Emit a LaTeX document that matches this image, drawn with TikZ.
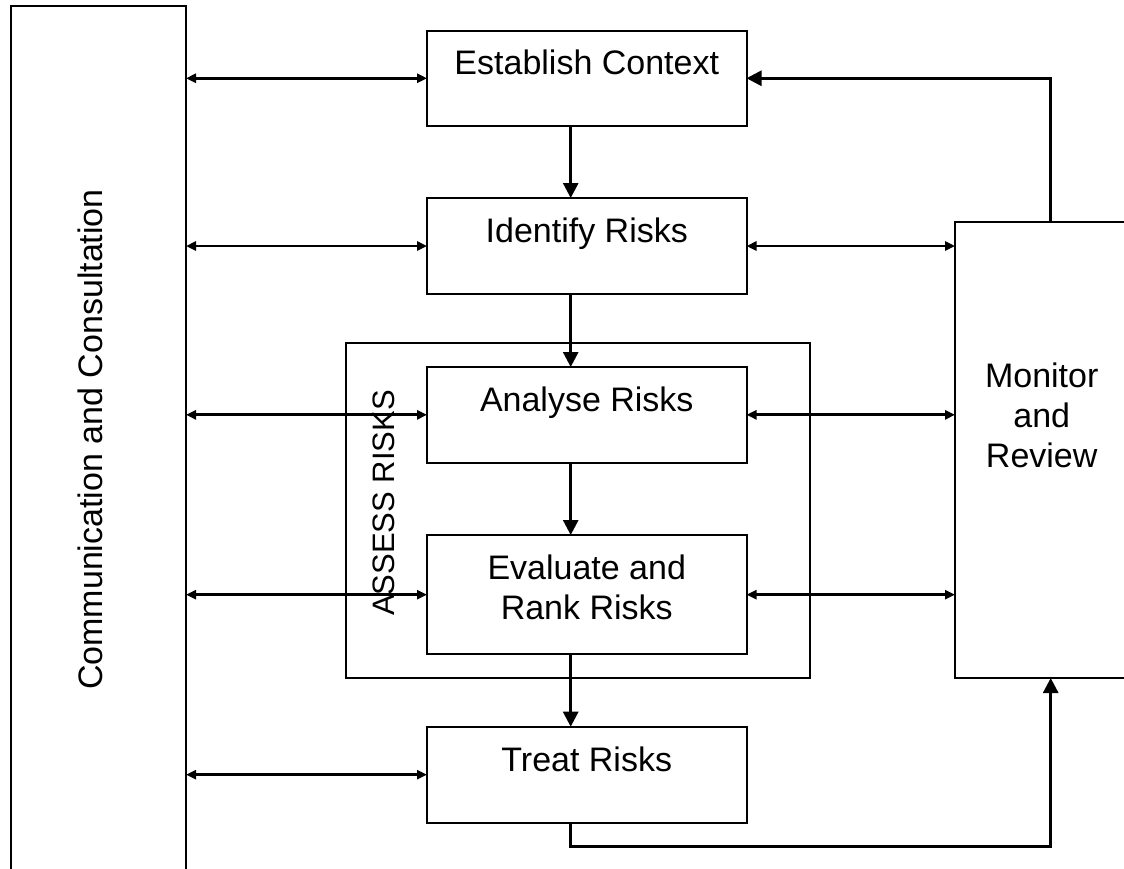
\documentclass[tikz,border=0pt]{standalone}
\usepackage{fontspec}
\setmainfont{Liberation Sans}
\usetikzlibrary{arrows.meta}
\tikzset{
  box/.style={draw, line width=2pt, inner sep=0pt, outer sep=0pt},
  txt/.style={inner sep=0pt, anchor=north, align=center, font=\fontsize{34}{40}\selectfont},
  flow/.style={line width=2.8pt, -{Triangle[length=15pt,width=15pt]}},
  both/.style={line width=2.8pt, {Triangle[length=10pt,width=9pt]}-{Triangle[length=10pt,width=9pt]}},
}
\begin{document}
\begin{tikzpicture}[x=1pt,y=-1pt]
\useasboundingbox (0,0) rectangle (1124,868);
\clip (0,0) rectangle (1124,868);
% boxes
\node[box, minimum width=175.5pt, minimum height=884pt] (comm) at (98.25,448) {};
\node[box, minimum width=464pt, minimum height=335.3pt] (assess) at (578,510.35) {};
\node[box, minimum width=319.5pt, minimum height=95.5pt] (ec) at (586.75,78.25) {};
\node[box, minimum width=319.5pt, minimum height=96pt] (ir) at (586.75,246) {};
\node[box, minimum width=319.5pt, minimum height=95.7pt] (ar) at (586.75,414.85) {};
\node[box, minimum width=319.5pt, minimum height=119.3pt] (er) at (586.75,594.65) {};
\node[box, minimum width=319.5pt, minimum height=96pt] (tr) at (586.75,774.7) {};
\node[box, minimum width=195pt, minimum height=456pt] (mr) at (1052.5,450) {};
% texts
\node[txt] (ect) at ([yshift=-19.5pt]ec.north) {Establish Context};
\node[txt] (irt) at ([yshift=-19.5pt]ir.north) {Identify Risks};
\node[txt] (art) at ([yshift=-19.5pt]ar.north) {Analyse Risks};
\node[txt] (ert) at ([yshift=-20pt]er.north) {Evaluate and\\Rank Risks};
\node[txt] (trt) at ([yshift=-19.5pt]tr.north) {Treat Risks};
\node[txt] (mrt) at (1041.7,362.7) {Monitor\\and\\Review};
\node[txt, rotate=90] (commt) at (78,439.5) {Communication and Consultation};
\node[txt, rotate=90, font=\fontsize{31}{37}\selectfont] (assesst) at (373,503) {ASSESS RISKS};
% helper coordinates
\coordinate (xv) at (570.7,0);
\coordinate (xf) at (1050.7,0);
\coordinate (yb) at (0,846.7);
% vertical flow
\draw[flow] (ec.south -| xv) -- (ir.north -| xv);
\draw[flow] (ir.south -| xv) -- (ar.north -| xv);
\draw[flow] (ar.south -| xv) -- (er.north -| xv);
\draw[flow] (er.south -| xv) -- (tr.north -| xv);
% left double arrows
\draw[both] (comm.east |- ec.west) -- (ec.west);
\draw[both] (comm.east |- ir.west) -- (ir.west);
\draw[both] (comm.east |- ar.west) -- (ar.west);
\draw[both] (comm.east |- er.west) -- (er.west);
\draw[both] (comm.east |- tr.west) -- (tr.west);
% right double arrows
\draw[both] (ir.east) -- (mr.west |- ir.east);
\draw[both] (ar.east) -- (mr.west |- ar.east);
\draw[both] (er.east) -- (mr.west |- er.east);
% feedback loops
\draw[flow] (mr.north -| xf) |- (ec.east);
\draw[flow] (tr.south -| xv) |- (xf |- yb) -- (mr.south -| xf);
\end{tikzpicture}
\end{document}
